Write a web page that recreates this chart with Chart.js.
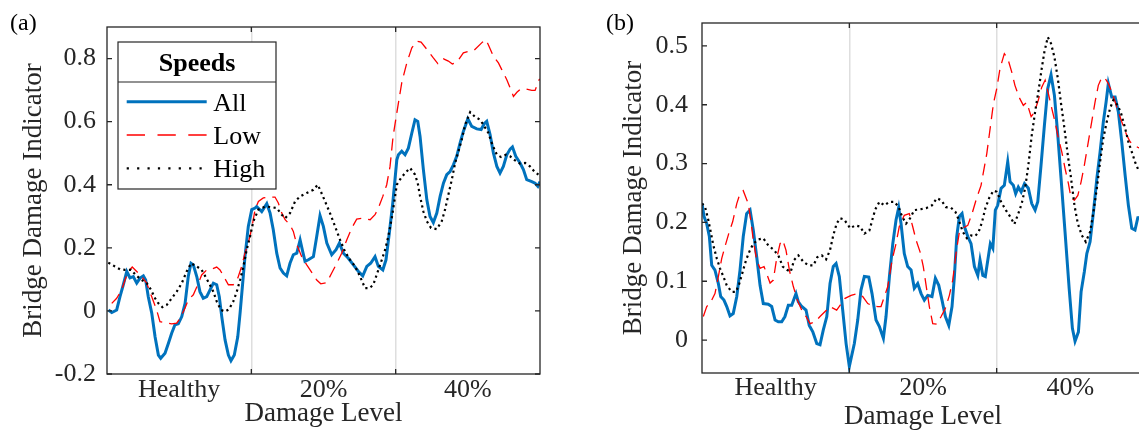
<!DOCTYPE html>
<html>
<head>
<meta charset="utf-8">
<title>Bridge Damage Indicator</title>
<script src="https://cdn.jsdelivr.net/npm/chart.js@4.4.1/dist/chart.umd.min.js"></script>
<style>
  html, body { margin: 0; padding: 0; background: #fff; overflow: hidden; }
  body { width: 1139px; height: 431px; position: relative; }
  canvas { position: absolute; top: 0; }
  #chartA { left: 0; }
  #chartB { left: 580px; }
  .tag { position: absolute; font: 24px "Liberation Serif", "Times New Roman", serif; line-height: 24px; color: #000; }
</style>
</head>
<body>
<canvas id="chartA" width="560" height="431"></canvas>
<canvas id="chartB" width="580" height="431"></canvas>
<div class="tag" style="left:10px;top:10px">(a)</div>
<div class="tag" style="left:606px;top:10px">(b)</div>
<script>
// x runs 0..300 across the three damage levels (100 per level)
let levelNames = ['Healthy', '20%', '40%'];
let levelCentres = [50, 150, 250];
let levelBounds = [100, 200];

let yTicksA = [-0.2, 0, 0.2, 0.4, 0.6, 0.8];
let yTicksB = [0, 0.1, 0.2, 0.3, 0.4, 0.5];

// ---- panel (a) ----
let allAX = [1,3.3,6.7,9,11.3,13.7,15.9,18.2,20.6,22.9,25.2,26.8,28.6,31,33.3,35.6,37.2,40.2,42.5,44.8,
    47.1,49.4,51.8,54.1,56.3,58.2,59.8,62.2,64.4,66.7,69.1,71.4,73.7,76,77.8,79.5,81.8,84.1,85.9,88.2,
    90.6,92.2,93.8,95.6,97.9,100.3,102.6,103.7,107.2,110.7,113,115.2,117.6,119.9,122.2,124.5,126.8,129.1,131.5,133.8,
    135.6,137.2,139.5,143,145.3,147.6,149.9,152.3,155.7,158.7,161,163.8,167.2,170.7,174.2,177.2,180,182.7,185.7,188,
    191.1,193.3,195.6,198,200.8,201.9,204.2,206.5,208.8,211.2,213.4,215.3,216.9,219.2,221.6,223.8,226.1,228.5,230.8,233.1,
    235.4,237.7,240,242.3,244.6,246.9,250,252.7,256.2,259.2,261.5,263.1,265.4,267.7,270.1,272.3,274.6,277,279.3,280.9,
    283.2,286.2,288.5,290.8,294.3,296.6,298.5,300];
let allAY = [0.003,-0.005,0.003,0.045,0.083,0.125,0.105,0.109,0.088,0.104,0.111,0.098,0.045,-0.007,-0.082,-0.14,-0.15,-0.134,-0.103,-0.071,
    -0.044,-0.041,-0.018,0.024,0.109,0.151,0.146,0.109,0.061,0.04,0.045,0.067,0.088,0.083,0.045,-0.018,-0.092,-0.14,-0.158,-0.14,
    -0.082,-0.007,0.077,0.172,0.268,0.321,0.326,0.331,0.315,0.34,0.31,0.257,0.183,0.136,0.12,0.111,0.151,0.178,0.183,0.225,
    0.188,0.157,0.162,0.172,0.236,0.302,0.268,0.215,0.178,0.194,0.215,0.183,0.167,0.146,0.125,0.111,0.141,0.151,0.172,0.141,
    0.13,0.162,0.247,0.342,0.479,0.495,0.506,0.495,0.516,0.564,0.606,0.601,0.553,0.448,0.352,0.299,0.28,0.31,0.363,0.405,
    0.432,0.442,0.463,0.49,0.532,0.569,0.609,0.585,0.577,0.575,0.594,0.601,0.559,0.501,0.458,0.437,0.458,0.495,0.513,0.52,
    0.49,0.469,0.448,0.416,0.41,0.405,0.395,0.41];

let lowAX = [3.3,6.7,10.2,12.5,14.8,17.5,20.6,24,27.5,31,34.4,36.7,40.2,44.8,48.3,50.6,54.1,56.3,59.8,62.9,
    65.6,69.1,72.6,76,78.3,84.1,87.5,90.6,93.3,95.6,97.9,100.3,102.6,104.9,108.3,111.8,116.4,118.7,121.1,123.4,
    126.8,129.1,131.5,134.9,138.4,145.3,148.1,152.3,155.7,159.2,162.6,166.1,169.6,173,177.6,182.3,185.7,188,191.1,193.8,
    196.1,198.2,200.8,204.2,207.7,211.2,214.6,217.6,222.7,226.1,229.2,233.1,236.5,239.3,242.3,246.9,250.4,254.5,260.1,262.4,
    264.2,267.7,271.2,273.5,277,279.3,281.6,284,286.2,289.7,294.3,296.6,299.4,300];
let lowAY = [0.024,0.04,0.067,0.098,0.125,0.139,0.125,0.109,0.088,0.045,0.003,-0.034,-0.037,-0.041,-0.039,-0.023,0.009,0.035,0.051,0.083,
    0.114,0.13,0.133,0.139,0.13,0.083,0.083,0.104,0.141,0.183,0.215,0.263,0.321,0.347,0.358,0.361,0.361,0.342,0.31,0.289,
    0.273,0.252,0.21,0.172,0.146,0.098,0.086,0.09,0.12,0.151,0.183,0.225,0.263,0.291,0.294,0.289,0.305,0.326,0.363,0.4,
    0.458,0.553,0.628,0.723,0.786,0.834,0.855,0.852,0.823,0.802,0.784,0.799,0.792,0.783,0.788,0.818,0.823,0.827,0.852,0.86,
    0.844,0.807,0.786,0.765,0.733,0.707,0.68,0.693,0.702,0.704,0.699,0.699,0.733,0.735];

let highAX = [0.9,5.5,9,12.5,16.6,20.6,24,27.5,30.5,33.3,35.6,38.3,41.4,44.8,48.3,51.8,55.2,58.2,62.2,65.6,
    67.9,70.7,73.7,76,79,81.8,84.5,87.5,89.9,92.2,94.5,96.8,99.1,101.4,104.9,109.5,114.1,117.6,121.1,123.4,
    126.8,130.3,133.8,138.4,143,146,148.1,151.1,154.5,158,161.5,164.9,168.4,171.9,175.3,178.8,181.8,184.5,188,190.4,
    192.7,194.9,197.3,198.9,200.8,203.7,206.5,210,213.4,215.3,216.9,219.2,221.6,224.5,228.5,231.9,234.2,236.5,238.9,241.2,
    243.5,245.8,248.1,251.6,255,258.5,261.5,264.2,267,270.1,273,276.3,279.3,282.7,286.2,289.7,293.1,296.1,298.9];
let highAY = [0.153,0.141,0.132,0.13,0.13,0.111,0.098,0.088,0.067,0.04,0.024,0.012,0.019,0.04,0.061,0.088,0.125,0.151,0.141,0.13,
    0.111,0.088,0.061,0.03,0.003,-0.002,0.005,0.03,0.061,0.098,0.141,0.194,0.236,0.284,0.321,0.331,0.329,0.326,0.305,0.294,
    0.31,0.347,0.363,0.374,0.384,0.4,0.379,0.347,0.31,0.268,0.225,0.188,0.162,0.141,0.109,0.072,0.072,0.083,0.13,0.162,
    0.194,0.236,0.294,0.342,0.4,0.421,0.437,0.453,0.432,0.405,0.363,0.315,0.284,0.263,0.259,0.284,0.321,0.368,0.416,0.469,
    0.506,0.543,0.59,0.63,0.615,0.606,0.585,0.564,0.527,0.495,0.488,0.495,0.49,0.477,0.467,0.469,0.458,0.442,0.432];

// ---- panel (b) ----
let allBX = [0,1.4,3.2,5,6.6,8.8,11.1,12.7,14.9,16.8,19,21.2,23.6,25.8,28,30.3,32.6,34.8,37.1,39.4,
    41.6,45,47.3,49.6,51.8,54.1,56.3,58.6,60.9,63.8,65.4,67.7,70.6,72.8,75.2,77.9,80.1,82.3,84.7,86.9,
    89.1,91,93.2,95.5,97.8,100,103.4,105.7,107.9,110.2,113.2,115.4,118.1,120.4,123.1,124.9,127.2,129.5,131.7,133.5,
    135.1,137.3,139.6,141.9,144.1,146.4,148.7,150.9,153.2,156.1,158.4,160.7,162.9,165.2,167.5,169.7,171.3,172.9,174.7,176.5,
    178.1,180.4,182.6,184.9,187.2,188.7,190.6,192.3,194,195.7,197.4,199.1,200.7,203,205.2,207.5,209.1,211.3,212.9,214.7,
    216.6,218.9,221.5,223.8,226.1,227.9,230.1,232.4,234.7,236.9,239.2,241.5,243.7,246.4,249.2,251.4,253.2,255.5,257.3,259.5,
    261.2,263.4,265.7,268,270.2,272.4,274.3,275.8,278.1,280.4,282.6,284.9,287.2,289.4,291.7,293.9,295.8,296.7,300];
let allBY = [0.232,0.21,0.198,0.176,0.127,0.119,0.096,0.074,0.068,0.057,0.041,0.045,0.074,0.119,0.176,0.215,0.221,0.187,0.142,0.093,
    0.062,0.061,0.057,0.034,0.031,0.031,0.04,0.059,0.059,0.079,0.065,0.057,0.051,0.025,0.014,-0.006,-0.008,0.017,0.04,0.096,
    0.125,0.13,0.108,0.051,-0.006,-0.045,-0.006,0.034,0.085,0.108,0.107,0.079,0.034,0.023,0.003,0.04,0.108,0.164,0.204,0.225,
    0.198,0.147,0.125,0.119,0.088,0.096,0.079,0.068,0.076,0.074,0.105,0.093,0.068,0.04,0.025,0.057,0.108,0.176,0.21,0.215,
    0.193,0.176,0.164,0.125,0.11,0.136,0.11,0.108,0.136,0.164,0.156,0.221,0.229,0.258,0.263,0.303,0.269,0.263,0.249,0.26,
    0.252,0.266,0.258,0.232,0.221,0.235,0.297,0.365,0.428,0.451,0.416,0.348,0.275,0.184,0.088,0.02,-0.002,0.014,0.082,0.116,
    0.147,0.167,0.218,0.275,0.32,0.371,0.405,0.436,0.413,0.413,0.388,0.337,0.28,0.229,0.19,0.187,0.208,0.208,0.215];

let lowBX = [0.9,3.2,5.4,8.8,11.1,13.4,15.6,18.5,20.8,23.6,25.8,28,31.4,33.1,34.8,37.1,39.4,42.1,43.9,46.2,
    48.4,50.7,53,54.8,57,59.3,62,64.7,67.7,70.6,73.3,76.7,80.1,86.9,91.4,97.1,101.2,105.7,109.1,112.5,
    115.9,119.3,121.5,123.8,126.1,129,131.7,133.9,137.3,140.7,143,145.3,148,150.2,152.1,154.3,156.6,159.3,162.3,165.2,
    167.9,170.2,172.4,174.7,177,180.4,183.3,186,189.4,193.3,197.8,200.1,202.3,205.2,207.5,210.2,212.4,215.2,218.1,220.4,
    223.4,225.6,228.3,230.6,232.9,235.1,237.4,239.6,241.9,244.2,246.4,248.7,250.5,252.8,255.1,257.3,259.5,261.8,264.5,266.8,
    269,271.4,273.6,275.8,278.1,280.4,282.6,284.9,288.3,290.6,293.5,296.2,300];
let lowBY = [0.04,0.057,0.062,0.079,0.108,0.139,0.159,0.184,0.201,0.232,0.249,0.254,0.232,0.204,0.17,0.136,0.122,0.125,0.113,0.097,
    0.102,0.139,0.164,0.17,0.153,0.119,0.091,0.068,0.051,0.04,0.028,0.031,0.04,0.057,0.051,0.071,0.076,0.079,0.074,0.062,
    0.058,0.057,0.057,0.074,0.091,0.136,0.164,0.193,0.212,0.215,0.193,0.17,0.15,0.125,0.093,0.057,0.028,0.027,0.04,0.054,
    0.076,0.102,0.147,0.184,0.19,0.195,0.215,0.238,0.263,0.317,0.402,0.428,0.462,0.487,0.479,0.456,0.433,0.413,0.399,0.404,
    0.38,0.387,0.408,0.43,0.442,0.419,0.394,0.371,0.343,0.32,0.292,0.266,0.241,0.238,0.246,0.269,0.297,0.331,0.371,0.405,
    0.433,0.447,0.445,0.436,0.422,0.405,0.388,0.371,0.348,0.337,0.331,0.327,0.325];

let highBX = [0,2,4.3,5.9,7.7,10,12.2,14.5,16.8,20.2,23.1,25.3,27.6,29.9,32.1,34.8,38.2,41.6,45,48.4,
    51.8,54.8,57.9,60.2,62.5,65.4,68.8,72.2,75.6,78.3,81.3,84.2,86.9,89.1,91.4,93.7,96.4,99.3,100.5,104.1,
    107.3,110.2,113.6,115.9,117.6,120.4,123.8,127.2,130.6,133.5,135.8,138.5,141.2,144.1,147.5,152.1,156.1,159.3,162.3,165.6,
    169,172,174.3,177,179.8,182.6,185.5,187.8,190.1,192.3,195,197.8,200.1,203,206.2,209.1,212,214.7,217,219.3,
    221.5,223.8,226.1,228.3,230.6,232.4,234.7,236.9,239.2,241.5,243.7,246,248.3,250.5,252.8,255.1,257.8,260.5,263.4,265.7,
    268,270.2,272.4,274.7,277,279.2,282.2,284.5,287.2,289.4,291.7,293.9,296.2];
let highBY = [0.232,0.227,0.204,0.184,0.161,0.139,0.122,0.108,0.093,0.082,0.082,0.096,0.116,0.136,0.15,0.164,0.171,0.173,0.161,0.154,
    0.144,0.125,0.119,0.116,0.136,0.144,0.133,0.127,0.127,0.141,0.144,0.137,0.153,0.178,0.198,0.207,0.205,0.195,0.19,0.195,
    0.193,0.181,0.186,0.207,0.222,0.235,0.229,0.235,0.235,0.226,0.21,0.198,0.207,0.221,0.222,0.224,0.229,0.241,0.238,0.226,
    0.225,0.218,0.204,0.184,0.173,0.178,0.177,0.184,0.201,0.224,0.242,0.254,0.252,0.235,0.221,0.21,0.197,0.215,0.232,0.258,
    0.297,0.348,0.388,0.422,0.462,0.49,0.515,0.504,0.481,0.445,0.402,0.36,0.314,0.275,0.229,0.198,0.178,0.167,0.184,0.218,
    0.258,0.303,0.343,0.371,0.394,0.408,0.399,0.385,0.36,0.337,0.32,0.303,0.289];

let serif = '"Liberation Serif", "Times New Roman", serif';
let axisColor = '#262626';
let gridGrey = '#dedede';

Chart.defaults.font.family = serif;
Chart.defaults.animation = false;

function toPoints(xs, ys) {
    return xs.map((x, i) => ({x: x, y: ys[i]}));
}

function series(label, xs, ys, style) {
    return Object.assign({
        label: label,
        data: toPoints(xs, ys),
        pointRadius: 0,
        tension: 0,
        fill: false
    }, style);
}

let allStyle = {borderColor: '#0072BD', borderWidth: 3, order: 3};
let lowStyle = {borderColor: '#FF0000', borderWidth: 1.3, borderDash: [12, 7], order: 2};
let highStyle = {borderColor: '#000000', borderWidth: 2.2, borderDash: [2.2, 3.4], order: 1};

// box round the plot with inward ticks, MATLAB style
const axesBox = {
    id: 'axesBox',
    afterDraw(chart, args, opts) {
        let ctx = chart.ctx, a = chart.chartArea;
        let x = chart.scales.x, y = chart.scales.y;
        ctx.save();
        ctx.strokeStyle = axisColor;
        ctx.lineWidth = 1.3;
        ctx.strokeRect(a.left, a.top, a.right - a.left, a.bottom - a.top);
        ctx.beginPath();
        opts.yTicks.forEach(v => {
            let py = y.getPixelForValue(v);
            ctx.moveTo(a.left, py); ctx.lineTo(a.left + 5, py);
            ctx.moveTo(a.right, py); ctx.lineTo(a.right - 5, py);
        });
        levelBounds.forEach(v => {
            let px = x.getPixelForValue(v);
            ctx.moveTo(px, a.bottom); ctx.lineTo(px, a.bottom - 5);
            ctx.moveTo(px, a.top); ctx.lineTo(px, a.top + 5);
        });
        ctx.stroke();
        ctx.restore();
    }
};

// legend with a title row, drawn inside the plot area
const speedLegend = {
    id: 'speedLegend',
    afterDatasetsDraw(chart) {
        let ctx = chart.ctx, a = chart.chartArea;
        let left = a.left + 11, top = a.top + 15, w = 158, h = 147;
        let legendDash = [[], [18.3, 12.5], [2.2, 8.2]];
        ctx.save();
        ctx.fillStyle = '#fff';
        ctx.fillRect(left, top, w, h);
        ctx.strokeStyle = axisColor;
        ctx.lineWidth = 1.2;
        ctx.strokeRect(left, top, w, h);
        ctx.beginPath();
        ctx.moveTo(left, top + 40);
        ctx.lineTo(left + w, top + 40);
        ctx.stroke();
        ctx.fillStyle = '#000';
        ctx.font = 'bold 26px ' + serif;
        ctx.textAlign = 'center';
        ctx.textBaseline = 'alphabetic';
        ctx.fillText('Speeds', left + w / 2, top + 28.5);
        ctx.font = '26px ' + serif;
        ctx.textAlign = 'left';
        chart.data.datasets.forEach((ds, i) => {
            let ly = top + 59.7 + i * 33.3;
            ctx.strokeStyle = ds.borderColor;
            ctx.lineWidth = ds.borderWidth;
            ctx.setLineDash(legendDash[i]);
            ctx.beginPath();
            ctx.moveTo(left + 8.7, ly);
            ctx.lineTo(left + 88.7, ly);
            ctx.stroke();
            ctx.setLineDash([]);
            ctx.fillText(ds.label, left + 95.3, ly + 9);
        });
        ctx.restore();
    }
};

function buildChart(id, p) {
    return new Chart(document.getElementById(id), {
        type: 'line',
        data: {
            datasets: [
                series('All', p.all[0], p.all[1], allStyle),
                series('Low', p.low[0], p.low[1], lowStyle),
                series('High', p.high[0], p.high[1], highStyle)
            ]
        },
        options: {
            responsive: false,
            layout: {padding: p.pad},
            plugins: {
                legend: {display: false},
                tooltip: {enabled: false},
                axesBox: {yTicks: p.yTicks}
            },
            scales: {
                x: {
                    type: 'linear',
                    min: 0,
                    max: 300,
                    afterBuildTicks: s => {
                        s.ticks = levelCentres.concat(levelBounds).sort((m, n) => m - n).map(v => ({value: v}));
                    },
                    afterFit: s => {
                        s.height = p.xHeight;
                        s.paddingLeft = 0;
                        s.paddingRight = 0;
                    },
                    border: {display: false},
                    grid: {
                        drawTicks: false,
                        lineWidth: 1.5,
                        color: c => levelBounds.includes(c.tick.value) ? gridGrey : 'rgba(0,0,0,0)'
                    },
                    ticks: {
                        autoSkip: false,
                        maxRotation: 0,
                        padding: p.xTickPad,
                        color: axisColor,
                        font: {size: 26, lineHeight: 1},
                        callback: v => {
                            let i = levelCentres.indexOf(v);
                            return i >= 0 ? levelNames[i] : '';
                        }
                    },
                    title: {
                        display: true,
                        text: 'Damage Level',
                        color: axisColor,
                        font: {size: 27, lineHeight: 1},
                        padding: {top: 0, bottom: p.xTitlePad}
                    }
                },
                y: {
                    min: p.yRange[0],
                    max: p.yRange[1],
                    afterBuildTicks: s => {
                        s.ticks = p.yTicks.map(v => ({value: v}));
                    },
                    afterFit: s => {
                        s.width = p.yWidth;
                        s.paddingTop = 0;
                        s.paddingBottom = 0;
                    },
                    border: {display: false},
                    grid: {display: false, drawTicks: false},
                    ticks: {
                        padding: p.yTickPad,
                        color: axisColor,
                        font: {size: 26, lineHeight: 1},
                        callback: v => String(Number(v.toFixed(1)))
                    },
                    title: {
                        display: true,
                        text: 'Bridge Damage Indicator',
                        color: axisColor,
                        font: {size: 27, lineHeight: 1},
                        padding: {top: p.yTitlePad, bottom: 0}
                    }
                }
            }
        },
        plugins: p.legend ? [axesBox, speedLegend] : [axesBox]
    });
}

buildChart('chartA', {
    all: [allAX, allAY], low: [lowAX, lowAY], high: [highAX, highAY],
    yRange: [-0.2, 0.9], yTicks: yTicksA,
    pad: {top: 27, right: 20, bottom: 0, left: 0},
    yWidth: 107, yTickPad: 11, yTitlePad: 20,
    xHeight: 57, xTickPad: 3, xTitlePad: 4,
    legend: true
});

buildChart('chartB', {
    all: [allBX, allBY], low: [lowBX, lowBY], high: [highBX, highBY],
    yRange: [-0.056, 0.539], yTicks: yTicksB,
    pad: {top: 23, right: 16, bottom: 0, left: 0},
    yWidth: 122, yTickPad: 14, yTitlePad: 40,
    xHeight: 58, xTickPad: 2.4, xTitlePad: 0.5,
    legend: false
});
</script>
</body>
</html>
